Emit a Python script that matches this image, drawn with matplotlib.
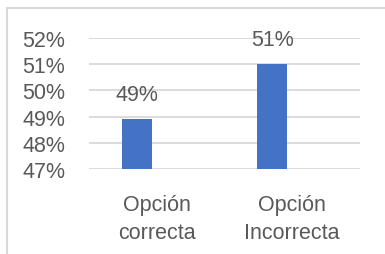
import matplotlib.pyplot as plt
from matplotlib.patches import Rectangle
from matplotlib.ticker import PercentFormatter

categories = ['Opción\ncorrecta', 'Opción\nIncorrecta']
values = [0.489, 0.510]
labels = ['49%', '51%']

plt.rcParams['font.family'] = ['Liberation Sans', 'DejaVu Sans']
gray = '#595959'
fs = 15.5

fig = plt.figure(figsize=(3.85, 2.55), dpi=100)
ax = fig.add_axes([89/385, 1-169.7/255, (360-89)/385, (169.7-39.3)/255])

x = range(len(categories))
offset = -0.147
bx = [i + offset for i in x]
ax.bar(bx, values, width=0.22, color='#4472C4', zorder=3)
for xi, v, t in zip(bx, values, labels):
    ax.text(xi, v + 0.0095, t, ha='center', va='center',
            fontsize=fs, color=gray, zorder=4)

ax.set_xlim(-0.5, 1.5)
ax.set_ylim(0.47, 0.52)
ax.set_yticks([0.47, 0.48, 0.49, 0.50, 0.51, 0.52])
ax.yaxis.set_major_formatter(PercentFormatter(1.0, decimals=0))
ax.set_xticks(list(x))
ax.set_xticklabels(categories, linespacing=1.45)
ax.tick_params(axis='both', length=0, labelsize=fs, labelcolor=gray)
ax.tick_params(axis='y', pad=17)
ax.tick_params(axis='x', pad=18)
ax.grid(axis='y', color='#D9D9D9', linewidth=1.3, zorder=0)
for s in ax.spines.values():
    s.set_visible(False)

fig.patches.append(Rectangle((7/385, -0.5), 1.2, 1.5 - 9/255, transform=fig.transFigure,
                             fill=False, edgecolor='#D9D9D9', linewidth=1.5))

fig.savefig('out.png', dpi=100)
